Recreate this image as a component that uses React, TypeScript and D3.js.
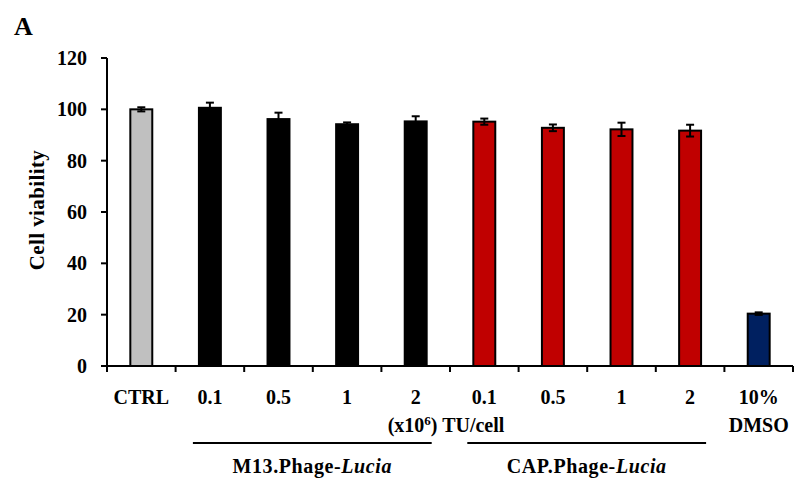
import React from "react";
import * as d3 from "d3";

const categories = ["CTRL", "M13_0.1", "M13_0.5", "M13_1", "M13_2", "CAP_0.1", "CAP_0.5", "CAP_1", "CAP_2", "DMSO"];
const tickLabels = ["CTRL", "0.1", "0.5", "1", "2", "0.1", "0.5", "1", "2", "10%"];
const values = [100, 100.6, 96.2, 94.2, 95.3, 95.2, 92.8, 92.2, 91.7, 20.4];
const errors = [0.8, 2.0, 2.5, 0.7, 2.0, 1.2, 1.3, 2.6, 2.3, 0.5];
const colors = ["#c0c0c0", "#000000", "#000000", "#000000", "#000000", "#c00000", "#c00000", "#c00000", "#c00000", "#002060"];
const yTicks = [0, 20, 40, 60, 80, 100, 120];
const groups = [
  { name: "M13.Phage-", italic: "Lucia", from: "M13_0.1", to: "M13_2" },
  { name: "CAP.Phage-", italic: "Lucia", from: "CAP_0.1", to: "CAP_2" },
];

const FONT = "'Liberation Serif', 'DejaVu Serif', serif";

export default function App() {
  const W = 795, H = 479;
  const x0 = 107, x1 = 793, yTop = 58, yBot = 366;
  const x = d3.scaleBand<string>().domain(categories).range([x0, x1]).paddingInner(0.68).paddingOuter(0.34);
  const band = d3.scaleBand<string>().domain(categories).range([x0, x1]);
  const y = d3.scaleLinear().domain([0, 120]).range([yBot, yTop]);
  const bw = x.bandwidth();
  const capW = 8;

  return (
    <svg width={W} height={H} style={{ position: "absolute", left: 0, top: 0 }} fontFamily={FONT}>
      <rect width={W} height={H} fill="#fff" />
      <text x={14} y={35} fontSize={26} fontWeight="bold">A</text>

      {/* bars */}
      {categories.map((c, i) => (
        <g key={c}>
          <rect x={x(c)} y={y(values[i])} width={bw} height={yBot - y(values[i])} fill={colors[i]} stroke="#000" strokeWidth={2} />
        </g>
      ))}
      {/* error bars */}
      {categories.map((c, i) => {
        const cx = (x(c) as number) + bw / 2;
        const top = y(values[i] + errors[i]);
        const bot = y(values[i] - errors[i]);
        return (
          <g key={"e" + c} stroke="#000" strokeWidth={2}>
            <line x1={cx} x2={cx} y1={top} y2={bot} />
            <line x1={cx - capW / 2} x2={cx + capW / 2} y1={top} y2={top} />
            <line x1={cx - capW / 2} x2={cx + capW / 2} y1={bot} y2={bot} />
          </g>
        );
      })}

      {/* y axis */}
      <line x1={x0} x2={x0} y1={yTop} y2={yBot} stroke="#000" strokeWidth={2} />
      {yTicks.map((t) => (
        <g key={t}>
          <line x1={x0 - 6} x2={x0} y1={y(t)} y2={y(t)} stroke="#000" strokeWidth={2} />
          <text x={x0 - 20} y={y(t)} dy="0.35em" textAnchor="end" fontSize={20} fontWeight="bold">{t}</text>
        </g>
      ))}
      <text transform={`translate(44,210) rotate(-90)`} textAnchor="middle" fontSize={21} fontWeight="bold" letterSpacing={0.4}>Cell viability</text>

      {/* x axis */}
      <line x1={x0} x2={x1} y1={yBot} y2={yBot} stroke="#000" strokeWidth={2} />
      {categories.map((c) => (
        <line key={"t" + c} x1={band(c)} x2={band(c)} y1={yBot} y2={yBot + 6} stroke="#000" strokeWidth={2} />
      ))}
      <line x1={x1} x2={x1} y1={yBot} y2={yBot + 6} stroke="#000" strokeWidth={2} />
      {categories.map((c, i) => (
        <text key={"l" + c} x={(x(c) as number) + bw / 2} y={404} textAnchor="middle" fontSize={20} fontWeight="bold">{tickLabels[i]}</text>
      ))}
      <text x={(x("DMSO") as number) + bw / 2} y={432} textAnchor="middle" fontSize={20} fontWeight="bold">DMSO</text>
      <text x={446} y={432} textAnchor="middle" fontSize={20} fontWeight="bold">
        (x10<tspan dy={-7} fontSize={13}>6</tspan><tspan dy={7}>) TU/cell</tspan>
      </text>

      {groups.map((g) => {
        const a = (x(g.from) as number) + bw / 2 - 17;
        const b = (x(g.to) as number) + bw / 2 + 16;
        return (
          <g key={g.name}>
            <line x1={a} x2={b} y1={443} y2={443} stroke="#000" strokeWidth={2} />
            <text x={(a + b) / 2} y={473} textAnchor="middle" fontSize={20} fontWeight="bold" letterSpacing={0.6}>
              {g.name}<tspan fontStyle="italic">{g.italic}</tspan>
            </text>
          </g>
        );
      })}
    </svg>
  );
}
